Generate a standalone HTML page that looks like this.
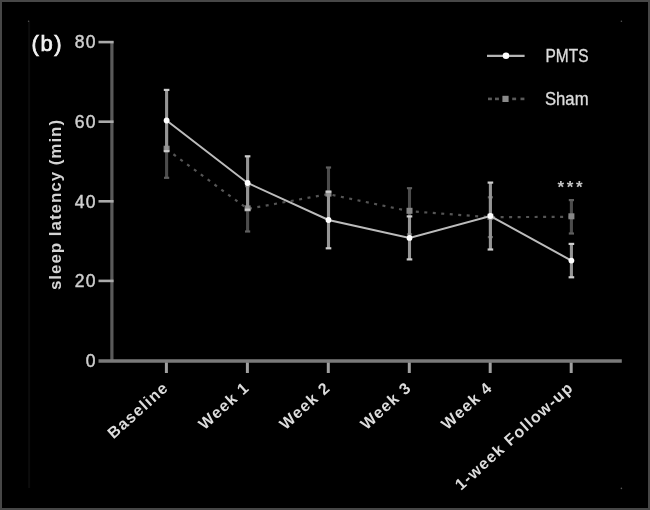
<!DOCTYPE html>
<html><head><meta charset="utf-8"><style>
html,body{margin:0;padding:0;background:#000;}
body{width:650px;height:510px;position:relative;overflow:hidden;font-family:"Liberation Sans",sans-serif;}
.frame{position:absolute;left:0;top:0;width:646px;height:506px;border:2px solid #474747;}
</style></head><body>
<div class="frame"></div>
<svg width="650" height="510" viewBox="0 0 650 510" style="position:absolute;left:0;top:0;filter:blur(0.5px)">
<line x1="29.1" y1="21.5" x2="29.1" y2="488" stroke="#0c0c0c" stroke-width="2"/>
<circle cx="28.6" cy="21.3" r="0.8" fill="#555"/>
<circle cx="621.4" cy="21.3" r="0.8" fill="#555"/>
<circle cx="621.4" cy="488.4" r="0.8" fill="#555"/>
<line x1="111.9" y1="40.90000000000002" x2="111.9" y2="360.5" stroke="#5a5a5a" stroke-width="3.2"/>
<line x1="98.5" y1="361" x2="621.8" y2="361" stroke="#7a7a7a" stroke-width="3.4"/>
<line x1="98.5" y1="280.9" x2="113.6" y2="280.9" stroke="#aaaaaa" stroke-width="2.6"/>
<line x1="98.5" y1="201.3" x2="113.6" y2="201.3" stroke="#aaaaaa" stroke-width="2.6"/>
<line x1="98.5" y1="121.7" x2="113.6" y2="121.7" stroke="#aaaaaa" stroke-width="2.6"/>
<line x1="98.5" y1="42.1" x2="113.6" y2="42.1" stroke="#aaaaaa" stroke-width="2.6"/>
<line x1="166.4" y1="362.5" x2="166.4" y2="373" stroke="#a0a0a0" stroke-width="3"/>
<line x1="247.4" y1="362.5" x2="247.4" y2="373" stroke="#a0a0a0" stroke-width="3"/>
<line x1="328.3" y1="362.5" x2="328.3" y2="373" stroke="#a0a0a0" stroke-width="3"/>
<line x1="409.3" y1="362.5" x2="409.3" y2="373" stroke="#a0a0a0" stroke-width="3"/>
<line x1="490.2" y1="362.5" x2="490.2" y2="373" stroke="#a0a0a0" stroke-width="3"/>
<line x1="571.2" y1="362.5" x2="571.2" y2="373" stroke="#a0a0a0" stroke-width="3"/>
<text x="96.7" y="366.8" text-anchor="end" font-family="Liberation Sans" font-size="17.5" letter-spacing="1.2" fill="#cfcfcf" stroke="#cfcfcf" stroke-width="0.45">0</text>
<text x="96.7" y="287.2" text-anchor="end" font-family="Liberation Sans" font-size="17.5" letter-spacing="1.2" fill="#cfcfcf" stroke="#cfcfcf" stroke-width="0.45">20</text>
<text x="96.7" y="207.6" text-anchor="end" font-family="Liberation Sans" font-size="17.5" letter-spacing="1.2" fill="#cfcfcf" stroke="#cfcfcf" stroke-width="0.45">40</text>
<text x="96.7" y="128.0" text-anchor="end" font-family="Liberation Sans" font-size="17.5" letter-spacing="1.2" fill="#cfcfcf" stroke="#cfcfcf" stroke-width="0.45">60</text>
<text x="96.7" y="48.4" text-anchor="end" font-family="Liberation Sans" font-size="17.5" letter-spacing="1.2" fill="#cfcfcf" stroke="#cfcfcf" stroke-width="0.45">80</text>
<text transform="translate(61,204.5) rotate(-90)" text-anchor="middle" font-family="Liberation Sans" font-weight="bold" font-size="17" letter-spacing="0.95" fill="#d4d4d4">sleep latency (min)</text>
<text x="31.5" y="51" font-family="Liberation Sans" font-size="22" letter-spacing="1.6" fill="#f0f0f0" stroke="#f0f0f0" stroke-width="0.7">(b)</text>
<text transform="translate(169.6,389) rotate(-42)" text-anchor="end" font-family="Liberation Sans" font-weight="bold" font-size="16.0" letter-spacing="1.2" fill="#dcdcdc">Baseline</text>
<text transform="translate(250.6,389) rotate(-42)" text-anchor="end" font-family="Liberation Sans" font-weight="bold" font-size="16.0" letter-spacing="1.2" fill="#dcdcdc">Week 1</text>
<text transform="translate(331.5,389) rotate(-42)" text-anchor="end" font-family="Liberation Sans" font-weight="bold" font-size="16.0" letter-spacing="1.2" fill="#dcdcdc">Week 2</text>
<text transform="translate(412.5,389) rotate(-42)" text-anchor="end" font-family="Liberation Sans" font-weight="bold" font-size="16.0" letter-spacing="1.2" fill="#dcdcdc">Week 3</text>
<text transform="translate(493.4,389) rotate(-42)" text-anchor="end" font-family="Liberation Sans" font-weight="bold" font-size="16.0" letter-spacing="1.2" fill="#dcdcdc">Week 4</text>
<text transform="translate(574.4,389) rotate(-42)" text-anchor="end" font-family="Liberation Sans" font-weight="bold" font-size="16.0" letter-spacing="1.2" fill="#dcdcdc">1-week Follow-up</text>
<polyline points="166.6,149.2 247.6,208.9 328.5,194.1 409.5,211.2 490.4,217.2 571.4,216.8" fill="none" stroke="#555555" stroke-width="2.2" stroke-dasharray="3 5.5"/>
<line x1="166.6" y1="120.5" x2="166.6" y2="177.8" stroke="#4c4c4c" stroke-width="3.1"/>
<line x1="164.0" y1="120.5" x2="169.2" y2="120.5" stroke="#5e5e5e" stroke-width="2.2"/>
<line x1="164.0" y1="177.8" x2="169.2" y2="177.8" stroke="#5e5e5e" stroke-width="2.2"/>
<rect x="163.6" y="145.7" width="6" height="6" fill="#888888"/>
<line x1="247.6" y1="186.2" x2="247.6" y2="231.5" stroke="#4c4c4c" stroke-width="3.1"/>
<line x1="245.0" y1="186.2" x2="250.2" y2="186.2" stroke="#5e5e5e" stroke-width="2.2"/>
<line x1="245.0" y1="231.5" x2="250.2" y2="231.5" stroke="#5e5e5e" stroke-width="2.2"/>
<rect x="244.6" y="205.4" width="6" height="6" fill="#888888"/>
<line x1="328.5" y1="167.5" x2="328.5" y2="220.8" stroke="#4c4c4c" stroke-width="3.1"/>
<line x1="325.9" y1="167.5" x2="331.1" y2="167.5" stroke="#5e5e5e" stroke-width="2.2"/>
<line x1="325.9" y1="220.8" x2="331.1" y2="220.8" stroke="#5e5e5e" stroke-width="2.2"/>
<rect x="325.5" y="190.6" width="6" height="6" fill="#888888"/>
<line x1="409.5" y1="188.2" x2="409.5" y2="234.3" stroke="#4c4c4c" stroke-width="3.1"/>
<line x1="406.9" y1="188.2" x2="412.1" y2="188.2" stroke="#5e5e5e" stroke-width="2.2"/>
<line x1="406.9" y1="234.3" x2="412.1" y2="234.3" stroke="#5e5e5e" stroke-width="2.2"/>
<rect x="406.5" y="207.8" width="6" height="6" fill="#888888"/>
<line x1="490.4" y1="197.3" x2="490.4" y2="237.1" stroke="#4c4c4c" stroke-width="3.1"/>
<line x1="487.8" y1="197.3" x2="493.0" y2="197.3" stroke="#5e5e5e" stroke-width="2.2"/>
<line x1="487.8" y1="237.1" x2="493.0" y2="237.1" stroke="#5e5e5e" stroke-width="2.2"/>
<rect x="487.4" y="213.7" width="6" height="6" fill="#888888"/>
<line x1="571.4" y1="200.1" x2="571.4" y2="233.5" stroke="#4c4c4c" stroke-width="3.1"/>
<line x1="568.8" y1="200.1" x2="574.0" y2="200.1" stroke="#5e5e5e" stroke-width="2.2"/>
<line x1="568.8" y1="233.5" x2="574.0" y2="233.5" stroke="#5e5e5e" stroke-width="2.2"/>
<rect x="568.4" y="213.3" width="6" height="6" fill="#888888"/>
<polyline points="166.6,120.5 247.6,183.0 328.5,220.0 409.5,237.9 490.4,216.0 571.4,260.6" fill="none" stroke="#bcbcbc" stroke-width="2.0"/>
<line x1="166.6" y1="89.9" x2="166.6" y2="151.2" stroke="#959595" stroke-width="3.1"/>
<line x1="163.8" y1="89.9" x2="169.4" y2="89.9" stroke="#cccccc" stroke-width="2.2"/>
<line x1="163.8" y1="151.2" x2="169.4" y2="151.2" stroke="#cccccc" stroke-width="2.2"/>
<circle cx="166.6" cy="120.5" r="2.9" fill="#ffffff"/>
<line x1="247.6" y1="156.3" x2="247.6" y2="209.7" stroke="#959595" stroke-width="3.1"/>
<line x1="244.8" y1="156.3" x2="250.4" y2="156.3" stroke="#cccccc" stroke-width="2.2"/>
<line x1="244.8" y1="209.7" x2="250.4" y2="209.7" stroke="#cccccc" stroke-width="2.2"/>
<circle cx="247.6" cy="183.0" r="2.9" fill="#ffffff"/>
<line x1="328.5" y1="191.7" x2="328.5" y2="248.3" stroke="#959595" stroke-width="3.1"/>
<line x1="325.7" y1="191.7" x2="331.3" y2="191.7" stroke="#cccccc" stroke-width="2.2"/>
<line x1="325.7" y1="248.3" x2="331.3" y2="248.3" stroke="#cccccc" stroke-width="2.2"/>
<circle cx="328.5" cy="220.0" r="2.9" fill="#ffffff"/>
<line x1="409.5" y1="216.4" x2="409.5" y2="259.4" stroke="#959595" stroke-width="3.1"/>
<line x1="406.7" y1="216.4" x2="412.3" y2="216.4" stroke="#cccccc" stroke-width="2.2"/>
<line x1="406.7" y1="259.4" x2="412.3" y2="259.4" stroke="#cccccc" stroke-width="2.2"/>
<circle cx="409.5" cy="237.9" r="2.9" fill="#ffffff"/>
<line x1="490.4" y1="182.6" x2="490.4" y2="249.5" stroke="#959595" stroke-width="3.1"/>
<line x1="487.6" y1="182.6" x2="493.2" y2="182.6" stroke="#cccccc" stroke-width="2.2"/>
<line x1="487.6" y1="249.5" x2="493.2" y2="249.5" stroke="#cccccc" stroke-width="2.2"/>
<circle cx="490.4" cy="216.0" r="2.9" fill="#ffffff"/>
<line x1="571.4" y1="243.9" x2="571.4" y2="277.3" stroke="#959595" stroke-width="3.1"/>
<line x1="568.6" y1="243.9" x2="574.2" y2="243.9" stroke="#cccccc" stroke-width="2.2"/>
<line x1="568.6" y1="277.3" x2="574.2" y2="277.3" stroke="#cccccc" stroke-width="2.2"/>
<circle cx="571.4" cy="260.6" r="2.9" fill="#ffffff"/>
<text x="571.4" y="193" text-anchor="middle" font-family="Liberation Sans" font-weight="bold" font-size="17" letter-spacing="2.6" fill="#c4c4c4">***</text>
<line x1="487" y1="55.8" x2="524.6" y2="55.8" stroke="#b4b4b4" stroke-width="2.3"/>
<circle cx="506" cy="55.8" r="3.3" fill="#fff"/>
<text x="545.5" y="62" font-family="Liberation Sans" font-size="18" textLength="43" stroke="#dcdcdc" stroke-width="0.35" lengthAdjust="spacingAndGlyphs" fill="#dcdcdc">PMTS</text>
<rect x="488" y="97.6" width="3.9" height="2.6" fill="#5a5a5a"/>
<rect x="495" y="97.6" width="3.9" height="2.6" fill="#5a5a5a"/>
<rect x="512.2" y="97.6" width="3.9" height="2.6" fill="#5a5a5a"/>
<rect x="520.5" y="97.6" width="3.9" height="2.6" fill="#5a5a5a"/>
<rect x="502.4" y="95.8" width="6.2" height="6.2" fill="#8a8a8a"/>
<text x="545" y="104.6" font-family="Liberation Sans" font-size="18.5" textLength="43.5" stroke="#dcdcdc" stroke-width="0.35" lengthAdjust="spacingAndGlyphs" fill="#dcdcdc">Sham</text>
</svg>
</body></html>
